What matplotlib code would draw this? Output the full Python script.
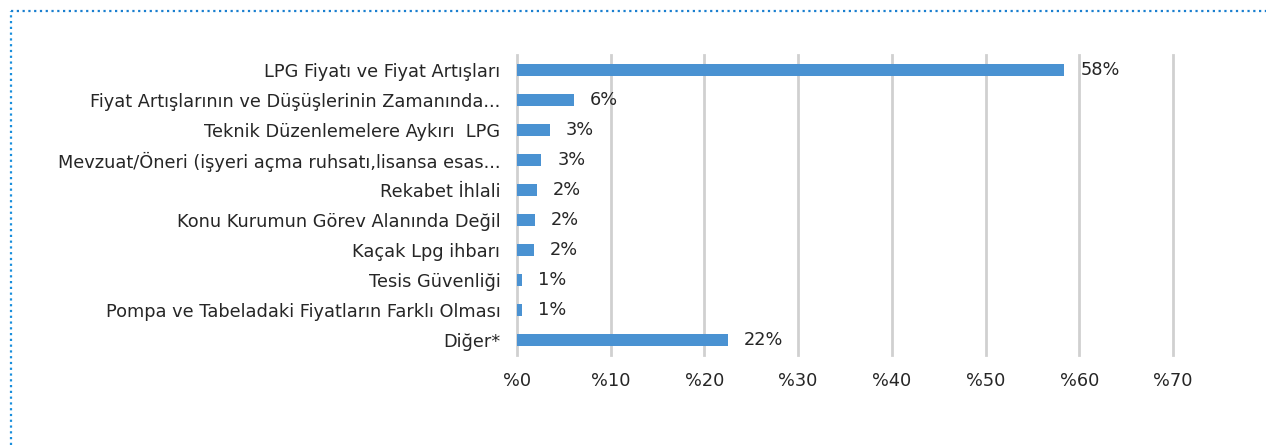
import matplotlib
matplotlib.use("Agg")
import matplotlib.pyplot as plt
from matplotlib.lines import Line2D

categories = [
    "LPG Fiyatı ve Fiyat Artışları",
    "Fiyat Artışlarının ve Düşüşlerinin Zamanında...",
    "Teknik Düzenlemelere Aykırı  LPG",
    "Mevzuat/Öneri (işyeri açma ruhsatı,lisansa esas...",
    "Rekabet İhlali",
    "Konu Kurumun Görev Alanında Değil",
    "Kaçak Lpg ihbarı",
    "Tesis Güvenliği",
    "Pompa ve Tabeladaki Fiyatların Farklı Olması",
    "Diğer*",
]
values = [58.4, 6.1, 3.5, 2.6, 2.1, 1.9, 1.8, 0.5, 0.5, 22.5]
value_labels = ["58%", "6%", "3%", "3%", "2%", "2%", "2%", "1%", "1%", "22%"]
xticks = [0, 10, 20, 30, 40, 50, 60, 70]
xtick_labels = ["%0", "%10", "%20", "%30", "%40", "%50", "%60", "%70"]

plt.rcParams['font.family'] = ['DejaVu Sans']
txt = '#262626'
fs = 12.8

fig = plt.figure(figsize=(12.66, 4.45), dpi=100)
ax = fig.add_axes([517/1266, 1-355/445, (1173-517)/1266, 300/445])

ypos = list(range(len(categories)))
ax.barh(ypos, values, height=0.43, color='#4a92d2', zorder=3)
ax.set_ylim(len(categories)-0.5, -0.5)
ax.set_xlim(0, 70)
ax.set_xticks(xticks)
ax.set_xticklabels(xtick_labels, fontsize=fs, color=txt)
ax.set_yticks(ypos)
ax.set_yticklabels(categories, fontsize=fs, color=txt)
ax.tick_params(axis='both', length=0)
ax.tick_params(axis='y', pad=12)
ax.tick_params(axis='x', pad=12)
for s in ax.spines.values():
    s.set_visible(False)
ax.grid(axis='x', color='#d0d0d0', linewidth=2, zorder=0)
for gl in ax.get_xgridlines():
    gl.set_clip_on(False)

for y, v, lab in zip(ypos, values, value_labels):
    ax.annotate(lab, xy=(v, y), xytext=(11.5, 0), textcoords='offset points',
                va='center', ha='left', fontsize=fs, color=txt)

# dotted frame
fig.add_artist(Line2D([11/1266, 1.0], [1-11/445, 1-11/445], transform=fig.transFigure,
                      color='#1a7fcf', linestyle=(0, (1, 1.6)), linewidth=1.6))
fig.add_artist(Line2D([11/1266, 11/1266], [0, 1-11/445], transform=fig.transFigure,
                      color='#1a8fdc', linestyle=(0, (1, 1.6)), linewidth=1.6))

fig.savefig("out.png", dpi=100, facecolor='white')
